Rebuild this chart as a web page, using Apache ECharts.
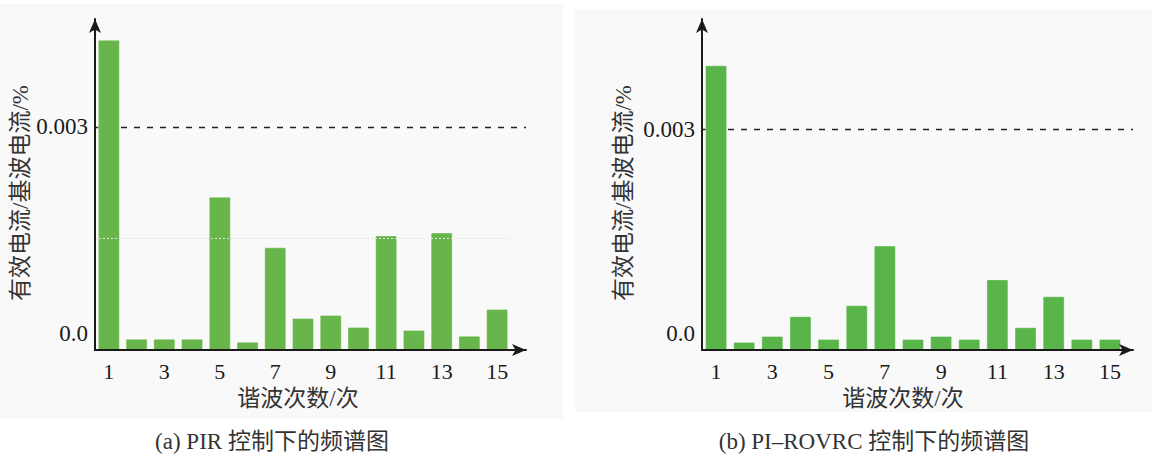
<!DOCTYPE html>
<html>
<head>
<meta charset="utf-8">
<script src="https://cdn.jsdelivr.net/npm/echarts@6/dist/echarts.min.js"></script>
<style>
  html, body { margin: 0; padding: 0; background: #ffffff; }
  #chart { width: 1152px; height: 454px; }
</style>
</head>
<body>
<div id="chart"></div>
<script>
// Harmonic orders on the x axis
const harmonicOrders = ['1','2','3','4','5','6','7','8','9','10','11','12','13','14','15'];

// RMS current / fundamental current for each harmonic order
const pirValues   = [0.00417, 0.00015, 0.00015, 0.00015, 0.00206, 0.00011, 0.00138, 0.00043, 0.00047, 0.00031, 0.00154, 0.00027, 0.00158, 0.00019, 0.00055];
const rovrcValues = [0.00387, 0.00011, 0.00019, 0.00046, 0.00015, 0.00061, 0.00142, 0.00015, 0.00019, 0.00015, 0.00096, 0.00031, 0.00073, 0.00015, 0.00015];

// Labelled y ticks
const yTickValues = [0, 0.003];
const yTickLabels = ['0.0', '0.003'];

// Reference levels: dashed limit line and faint grid line
const referenceLevel = 0.003;
const gridLevel = 0.0015;

const xAxisTitle = '谐波次数/次';
const yAxisTitle = '有效电流/基波电流/%';
const captions = ['(a) PIR 控制下的频谱图', '(b) PI\u2013ROVRC 控制下的频谱图'];

const SERIF = '"Liberation Serif", "DejaVu Serif", serif';
const CJK = '"Liberation Serif", "Noto Sans CJK SC", sans-serif';
const INK = '#1a1a1a';

const panels = [
  { values: pirValues, color: '#68b64b', left: 95, width: 416, lineWidth: 431, max: 0.00445,
    bg: [0, 4, 563, 415], captionX: 272, yNameGap: 61, xNamePad: [0, 10, 0, 0], faint: true },
  { values: rovrcValues, color: '#59b54a', left: 702, width: 422, lineWidth: 431, max: 0.0045,
    bg: [575, 9, 577, 403], captionX: 874, yNameGap: 67, xNamePad: [0, 20, 0, 0], faint: false }
];

function yLabel(v) {
  for (let i = 0; i < yTickValues.length; i++) {
    if (Math.abs(v - yTickValues[i]) < 1e-9) {
      // the zero label sits a little above the axis line
      return yTickValues[i] === 0 ? yTickLabels[i] + '\n ' : yTickLabels[i];
    }
  }
  return '';
}

const grid = [], xAxis = [], yAxis = [], series = [], graphic = [];
const TOP = 19, HEIGHT = 331;

panels.forEach((p, k) => {
  const main = 2 * k, over = 2 * k + 1;

  graphic.push({
    type: 'rect', z: -10, silent: true,
    shape: { x: p.bg[0], y: p.bg[1], width: p.bg[2], height: p.bg[3] },
    style: { fill: '#f9f9f9' }
  });
  graphic.push({
    type: 'text', x: p.captionX, y: 441, silent: true,
    style: { text: captions[k], fill: '#333', fontSize: 23, fontFamily: CJK,
             textAlign: 'center', textVerticalAlign: 'middle' }
  });

  // plotting grid for the bars
  grid.push({ left: p.left, top: TOP, width: p.width, height: HEIGHT });
  // wider grid carrying the arrowed x axis and the dashed reference line
  grid.push({ left: p.left, top: TOP, width: p.lineWidth, height: HEIGHT });

  xAxis.push({
    gridIndex: main, type: 'category', data: harmonicOrders, boundaryGap: true,
    axisLine: { show: false }, axisTick: { show: false },
    axisLabel: { interval: 1, margin: 10, fontFamily: SERIF, fontSize: 22, color: INK },
    name: xAxisTitle, nameLocation: 'middle', nameGap: 35,
    nameTextStyle: { fontFamily: CJK, fontSize: 23, color: '#333', padding: p.xNamePad }
  });
  xAxis.push({
    gridIndex: over, type: 'value', min: 0, max: 1, z: 3,
    axisLine: { show: true, symbol: ['none', 'arrow'], symbolSize: [9, 14],
                lineStyle: { color: INK, width: 2 } },
    axisTick: { show: false }, axisLabel: { show: false }, splitLine: { show: false }
  });

  yAxis.push({
    gridIndex: main, type: 'value', min: 0, max: p.max,
    interval: p.faint ? gridLevel : referenceLevel, z: 3,
    axisLine: { show: true, symbol: ['none', 'arrow'], symbolSize: [9, 14],
                lineStyle: { color: INK, width: 2 } },
    axisTick: { show: false },
    axisLabel: { margin: 7, fontFamily: SERIF, fontSize: 23, color: INK, lineHeight: 34,
                 showMaxLabel: false, formatter: yLabel },
    // faint dotted line at the grid level only; the dashed reference line is drawn separately
    splitLine: { show: p.faint, showMinLine: false, showMaxLine: false,
                 lineStyle: { color: ['#e2e2e2', 'rgba(0,0,0,0)'], type: [2, 2], width: 1 } },
    name: yAxisTitle, nameLocation: 'middle', nameGap: p.yNameGap,
    nameTextStyle: { fontFamily: CJK, fontSize: 23, color: '#333', padding: [0, 17, 0, 0] }
  });
  yAxis.push({
    gridIndex: over, type: 'value', min: 0, max: p.max, interval: referenceLevel,
    axisLine: { show: false }, axisTick: { show: false }, axisLabel: { show: false },
    splitLine: { show: true, showMinLine: false, showMaxLine: false,
                 lineStyle: { color: '#222', type: [6, 7], width: 1.3 } }
  });

  series.push({
    type: 'bar', xAxisIndex: main, yAxisIndex: main, data: p.values, barWidth: 22,
    itemStyle: { color: p.color, borderColor: 'rgba(255,255,255,0.35)', borderWidth: 1, borderRadius: 1 },
    emphasis: { disabled: true }, animation: false
  });
});

const chart = echarts.init(document.getElementById('chart'), null, { renderer: 'svg' });
chart.setOption({
  animation: false,
  backgroundColor: '#ffffff',
  graphic: graphic,
  grid: grid,
  xAxis: xAxis,
  yAxis: yAxis,
  series: series
});
</script>
</body>
</html>
